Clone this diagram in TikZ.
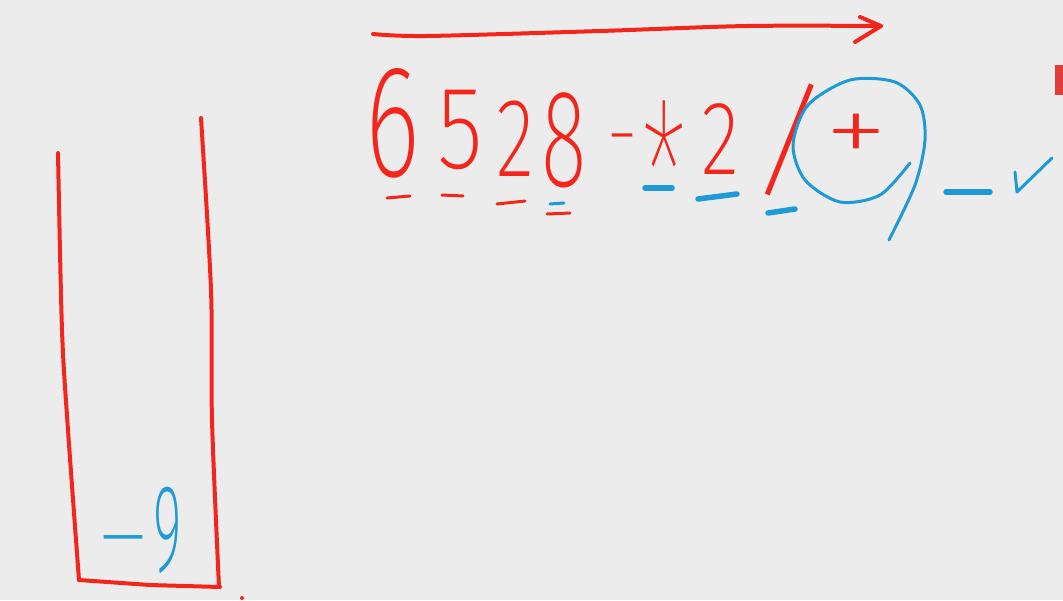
\documentclass[tikz,border=0pt]{standalone}
\usepackage{fontspec}
\newfontfamily\hand{Fira Sans ExtraLight}
\newfontfamily\handthin{Fira Sans Thin}
\definecolor{ink}{HTML}{F4261C}
\definecolor{bl}{HTML}{1E9AD6}
\definecolor{bg}{HTML}{ECECEC}
\definecolor{tab}{HTML}{E03C3C}
\begin{document}
\begin{tikzpicture}[x=1pt,y=-1pt,
 redline/.style={draw=ink, line width=4pt, line cap=round, line join=round},
 blueline/.style={draw=bl, line width=3pt, line cap=round, line join=round},
 bluethick/.style={draw=bl, line width=5.5pt, line cap=round},
 glyph/.style={inner sep=0pt, outer sep=0pt, font=\hand\fontsize{100}{100}\selectfont, text=ink},
 thinglyph/.style={glyph, font=\handthin\fontsize{100}{100}\selectfont},
 bglyph/.style={glyph, text=bl},
]
\fill[bg] (0,0) rectangle (1063,600);
\useasboundingbox (0,0) rectangle (1063,600);
\fill[tab] (1055,65) rectangle (1063,95);
% arrow
\coordinate (a0) at (373,34);
\coordinate (a1) at (881,26);
\draw[redline] plot[smooth] coordinates {(a0) (427,36) (600,31) (747,26) (a1)};
\draw[redline] (860,17) -- (a1) -- (855,42);
% stack box
\draw[redline] plot[smooth] coordinates {(58,153) (62,330) (68,430) (79,580)};
\draw[redline] (79,580) -- (150,585) -- (220,587);
\draw[redline] plot[smooth] coordinates {(201,118) (211,290) (212,420) (219,587)};
\fill[ink] (242,598) circle (2);
% result in stack
\node[bglyph, xscale=1.5, yscale=0.9] (m) at (123,551) {-};
\node[bglyph, xscale=0.55, yscale=1.25] (n9) at (168,530) {9};
% expression
\node[glyph, xscale=1.05, yscale=1.6] (d6) at (393,123) {6};
\node[glyph, xscale=0.95, yscale=1.18] (d5) at (460,130) {5};
\node[glyph, xscale=0.8, yscale=1.12] (d2) at (515,139) {2};
\node[glyph, xscale=0.85, yscale=1.39] (d8) at (564,140) {8};
\node[glyph, xscale=0.8, yscale=0.8] (op1) at (622,147) {-};
\node[thinglyph, xscale=1.1, yscale=2.1] (op2) at (664,178) {*};
\node[glyph, xscale=0.8, yscale=1.05] (d2b) at (720,139) {2};
\node[glyph, xscale=1.25, yscale=1.3, rotate=-8] (op3) at (790,140) {/};
\node[glyph, xscale=1.3, yscale=1.0] (op4) at (856,139) {+};
% underlines
\draw[redline, line width=3pt] (387,198) -- (410,196);
\draw[redline, line width=3pt] (442,195) -- (463,196);
\draw[redline, line width=3pt] (497,204) -- (525,201);
\draw[blueline] (550,204) -- (564,203);
\draw[redline, line width=3pt] (547,214) -- (570,213);
\draw[bluethick] (645,188) -- (672,188);
\draw[bluethick] (698,199) -- (737,194);
\draw[bluethick] (768,213) -- (795,209);
% circled nine
\draw[blueline] plot[smooth] coordinates {(910,163) (880,195) (840,202) (805,180) (793,145) (808,105) (850,80) (895,82) (920,105) (925,140) (915,185) (889,240)};
\draw[bluethick] (946,192) -- (990,192);
\draw[blueline] (1015,172) -- (1017,192) -- (1052,158);
\end{tikzpicture}
\end{document}
